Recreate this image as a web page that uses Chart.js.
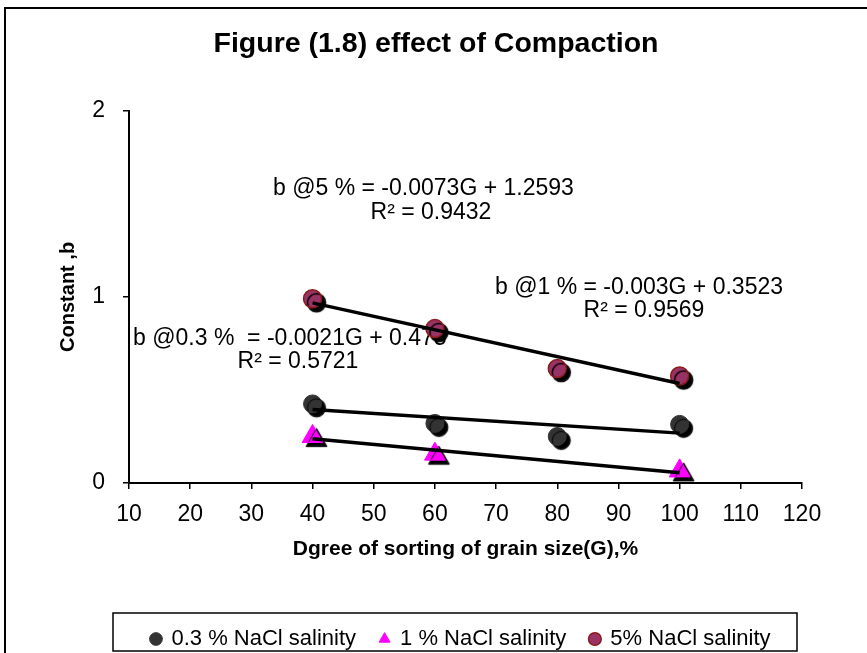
<!DOCTYPE html>
<html>
<head>
<meta charset="utf-8">
<script src="https://cdn.jsdelivr.net/npm/chart.js@4.4.1/dist/chart.umd.min.js"></script>
<style>
  html, body { margin: 0; padding: 0; background: #fff; }
  #wrap { width: 867px; height: 653px; }
</style>
</head>
<body>
<div id="wrap"><canvas id="compactionChart" width="867" height="653"></canvas></div>
<script>
// sorting degree (G, %) for each salinity series
var sortingG = [40, 60, 80, 100];
var salinity03 = [0.425, 0.32, 0.25, 0.315];
var salinity1G = [40, 60, 100];
var salinity1 = [0.25, 0.155, 0.065];
var salinity5 = [0.99, 0.83, 0.615, 0.575];

// linear trend lines, endpoints at G = 40 and G = 100
var trendG = [40, 100];
var trend03 = [0.395, 0.268];
var trend1 = [0.238, 0.055];
var trend5 = [0.968, 0.535];

var seriesLabels = ['0.3 % NaCl salinity', '1 % NaCl salinity', '5% NaCl salinity'];
var xTicks = [10, 20, 30, 40, 50, 60, 70, 80, 90, 100, 110, 120];
var yTicks = [0, 1, 2];

var FONT = "'Liberation Sans', Arial, sans-serif";

function toPoints(xs, ys) {
    return xs.map(function (x, i) { return { x: x, y: ys[i] }; });
}

// frame, white background and the box round the legend
var framePlugin = {
    id: 'frame',
    beforeDraw: function (chart) {
        var ctx = chart.ctx;
        ctx.save();
        ctx.fillStyle = '#fff';
        ctx.fillRect(0, 0, chart.width, chart.height);
        ctx.strokeStyle = '#000';
        ctx.lineWidth = 2;
        ctx.strokeRect(5, 8, chart.width + 20, chart.height + 20);
        ctx.restore();
    },
    afterLayout: function (chart) {
        // title centred on the whole figure, legend row under the plot
        chart.titleBlock.left = 0;
        chart.titleBlock.right = 872;
        var lg = chart.legend;
        lg.left = 120;
        lg.right = 802;
        lg.top = 604;
    },
    afterDraw: function (chart) {
        var ctx = chart.ctx;
        ctx.save();
        ctx.strokeStyle = '#000';
        ctx.lineWidth = 1.5;
        ctx.strokeRect(113, 613, 684, 38);
        ctx.restore();
    }
};

// equation labels, drawn under the markers
var equationPlugin = {
    id: 'equations',
    beforeDatasetsDraw: function (chart) {
        var ctx = chart.ctx;
        ctx.save();
        ctx.fillStyle = '#000';
        ctx.font = '23px ' + FONT;
        ctx.textBaseline = 'middle';
        ctx.textAlign = 'left';
        ctx.fillText('b @5 % = -0.0073G + 1.2593', 273, 189);
        ctx.fillText('b @1 % = -0.003G + 0.3523', 495, 288);
        ctx.fillText('b @0.3 %  = -0.0021G + 0.475', 133, 339);
        ctx.textAlign = 'center';
        ctx.fillText('R\u00b2 = 0.9432', 431, 213);
        ctx.fillText('R\u00b2 = 0.9569', 644, 311);
        ctx.fillText('R\u00b2 = 0.5721', 298, 362);
        ctx.restore();
    }
};

// drop shadow under the markers only
var shadowPlugin = {
    id: 'markerShadow',
    beforeDatasetDraw: function (chart, args) {
        if (chart.data.datasets[args.index].isTrend) return;
        var ctx = chart.ctx;
        ctx.save();
        ctx.shadowColor = 'rgba(0,0,0,1)';
        ctx.shadowOffsetX = 4;
        ctx.shadowOffsetY = 4;
        ctx.shadowBlur = 1;
    },
    afterDatasetDraw: function (chart, args) {
        if (chart.data.datasets[args.index].isTrend) return;
        chart.ctx.restore();
    }
};

function trendSet(xs, ys) {
    return {
        label: 'trend',
        isTrend: true,
        data: toPoints(xs, ys),
        showLine: true,
        borderColor: '#000',
        borderWidth: 3.5,
        pointRadius: 0,
        order: 0
    };
}

var ctx = document.getElementById('compactionChart');
new Chart(ctx, {
    type: 'scatter',
    data: {
        datasets: [
            {
                label: seriesLabels[0],
                data: toPoints(sortingG, salinity03),
                pointStyle: 'circle',
                pointRadius: 9,
                backgroundColor: '#333333',
                borderColor: '#333333',
                borderWidth: 1,
                order: 1
            },
            {
                label: seriesLabels[1],
                data: toPoints(salinity1G, salinity1),
                pointStyle: 'triangle',
                pointRadius: 12,
                backgroundColor: '#ff00ff',
                borderColor: '#ff00ff',
                borderWidth: 1,
                order: 1
            },
            {
                label: seriesLabels[2],
                data: toPoints(sortingG, salinity5),
                pointStyle: 'circle',
                pointRadius: 9,
                backgroundColor: '#993366',
                borderColor: '#8b1a1a',
                borderWidth: 1.5,
                order: 1
            },
            trendSet(trendG, trend03),
            trendSet(trendG, trend1),
            trendSet(trendG, trend5)
        ]
    },
    options: {
        responsive: false,
        animation: false,
        layout: { padding: { left: 0, right: 65, top: 0, bottom: 0 } },
        plugins: {
            title: {
                display: true,
                text: 'Figure (1.8) effect of Compaction',
                color: '#000',
                font: { family: FONT, size: 28.5, weight: 'bold' },
                padding: { top: 27, bottom: 49.6 }
            },
            tooltip: { enabled: false },
            legend: {
                position: 'bottom',
                labels: {
                    filter: function (item) { return item.text !== 'trend'; },
                    usePointStyle: true,
                    boxWidth: 9,
                    boxHeight: 9,
                    padding: 24,
                    color: '#000',
                    font: { family: FONT, size: 22 }
                }
            }
        },
        scales: {
            x: {
                type: 'linear',
                min: 10,
                max: 120,
                afterBuildTicks: function (axis) {
                    axis.ticks = xTicks.map(function (v) { return { value: v }; });
                },
                afterFit: function (axis) { axis.height = 114; },
                border: { color: '#000', width: 2 },
                grid: { display: true, drawOnChartArea: false, color: '#000', tickLength: 6, lineWidth: 1.5 },
                ticks: { color: '#000', font: { family: FONT, size: 23 }, padding: 12, maxRotation: 0 },
                title: {
                    display: true,
                    text: 'Dgree of sorting of grain size(G),%',
                    color: '#000',
                    font: { family: FONT, size: 21, weight: 'bold' },
                    padding: { top: 12, bottom: 35.5 }
                }
            },
            y: {
                type: 'linear',
                min: 0,
                max: 2,
                afterBuildTicks: function (axis) {
                    axis.ticks = yTicks.map(function (v) { return { value: v }; });
                },
                afterFit: function (axis) { axis.width = 129; },
                border: { color: '#000', width: 2 },
                grid: { display: true, drawOnChartArea: false, color: '#000', tickLength: 6, lineWidth: 1.5 },
                ticks: { color: '#000', font: { family: FONT, size: 23 }, padding: 18 },
                title: {
                    display: true,
                    text: 'Constant ,b',
                    color: '#000',
                    font: { family: FONT, size: 20, weight: 'bold' },
                    padding: { top: 56, bottom: 0 }
                }
            }
        }
    },
    plugins: [framePlugin, equationPlugin, shadowPlugin]
});
</script>
</body>
</html>
